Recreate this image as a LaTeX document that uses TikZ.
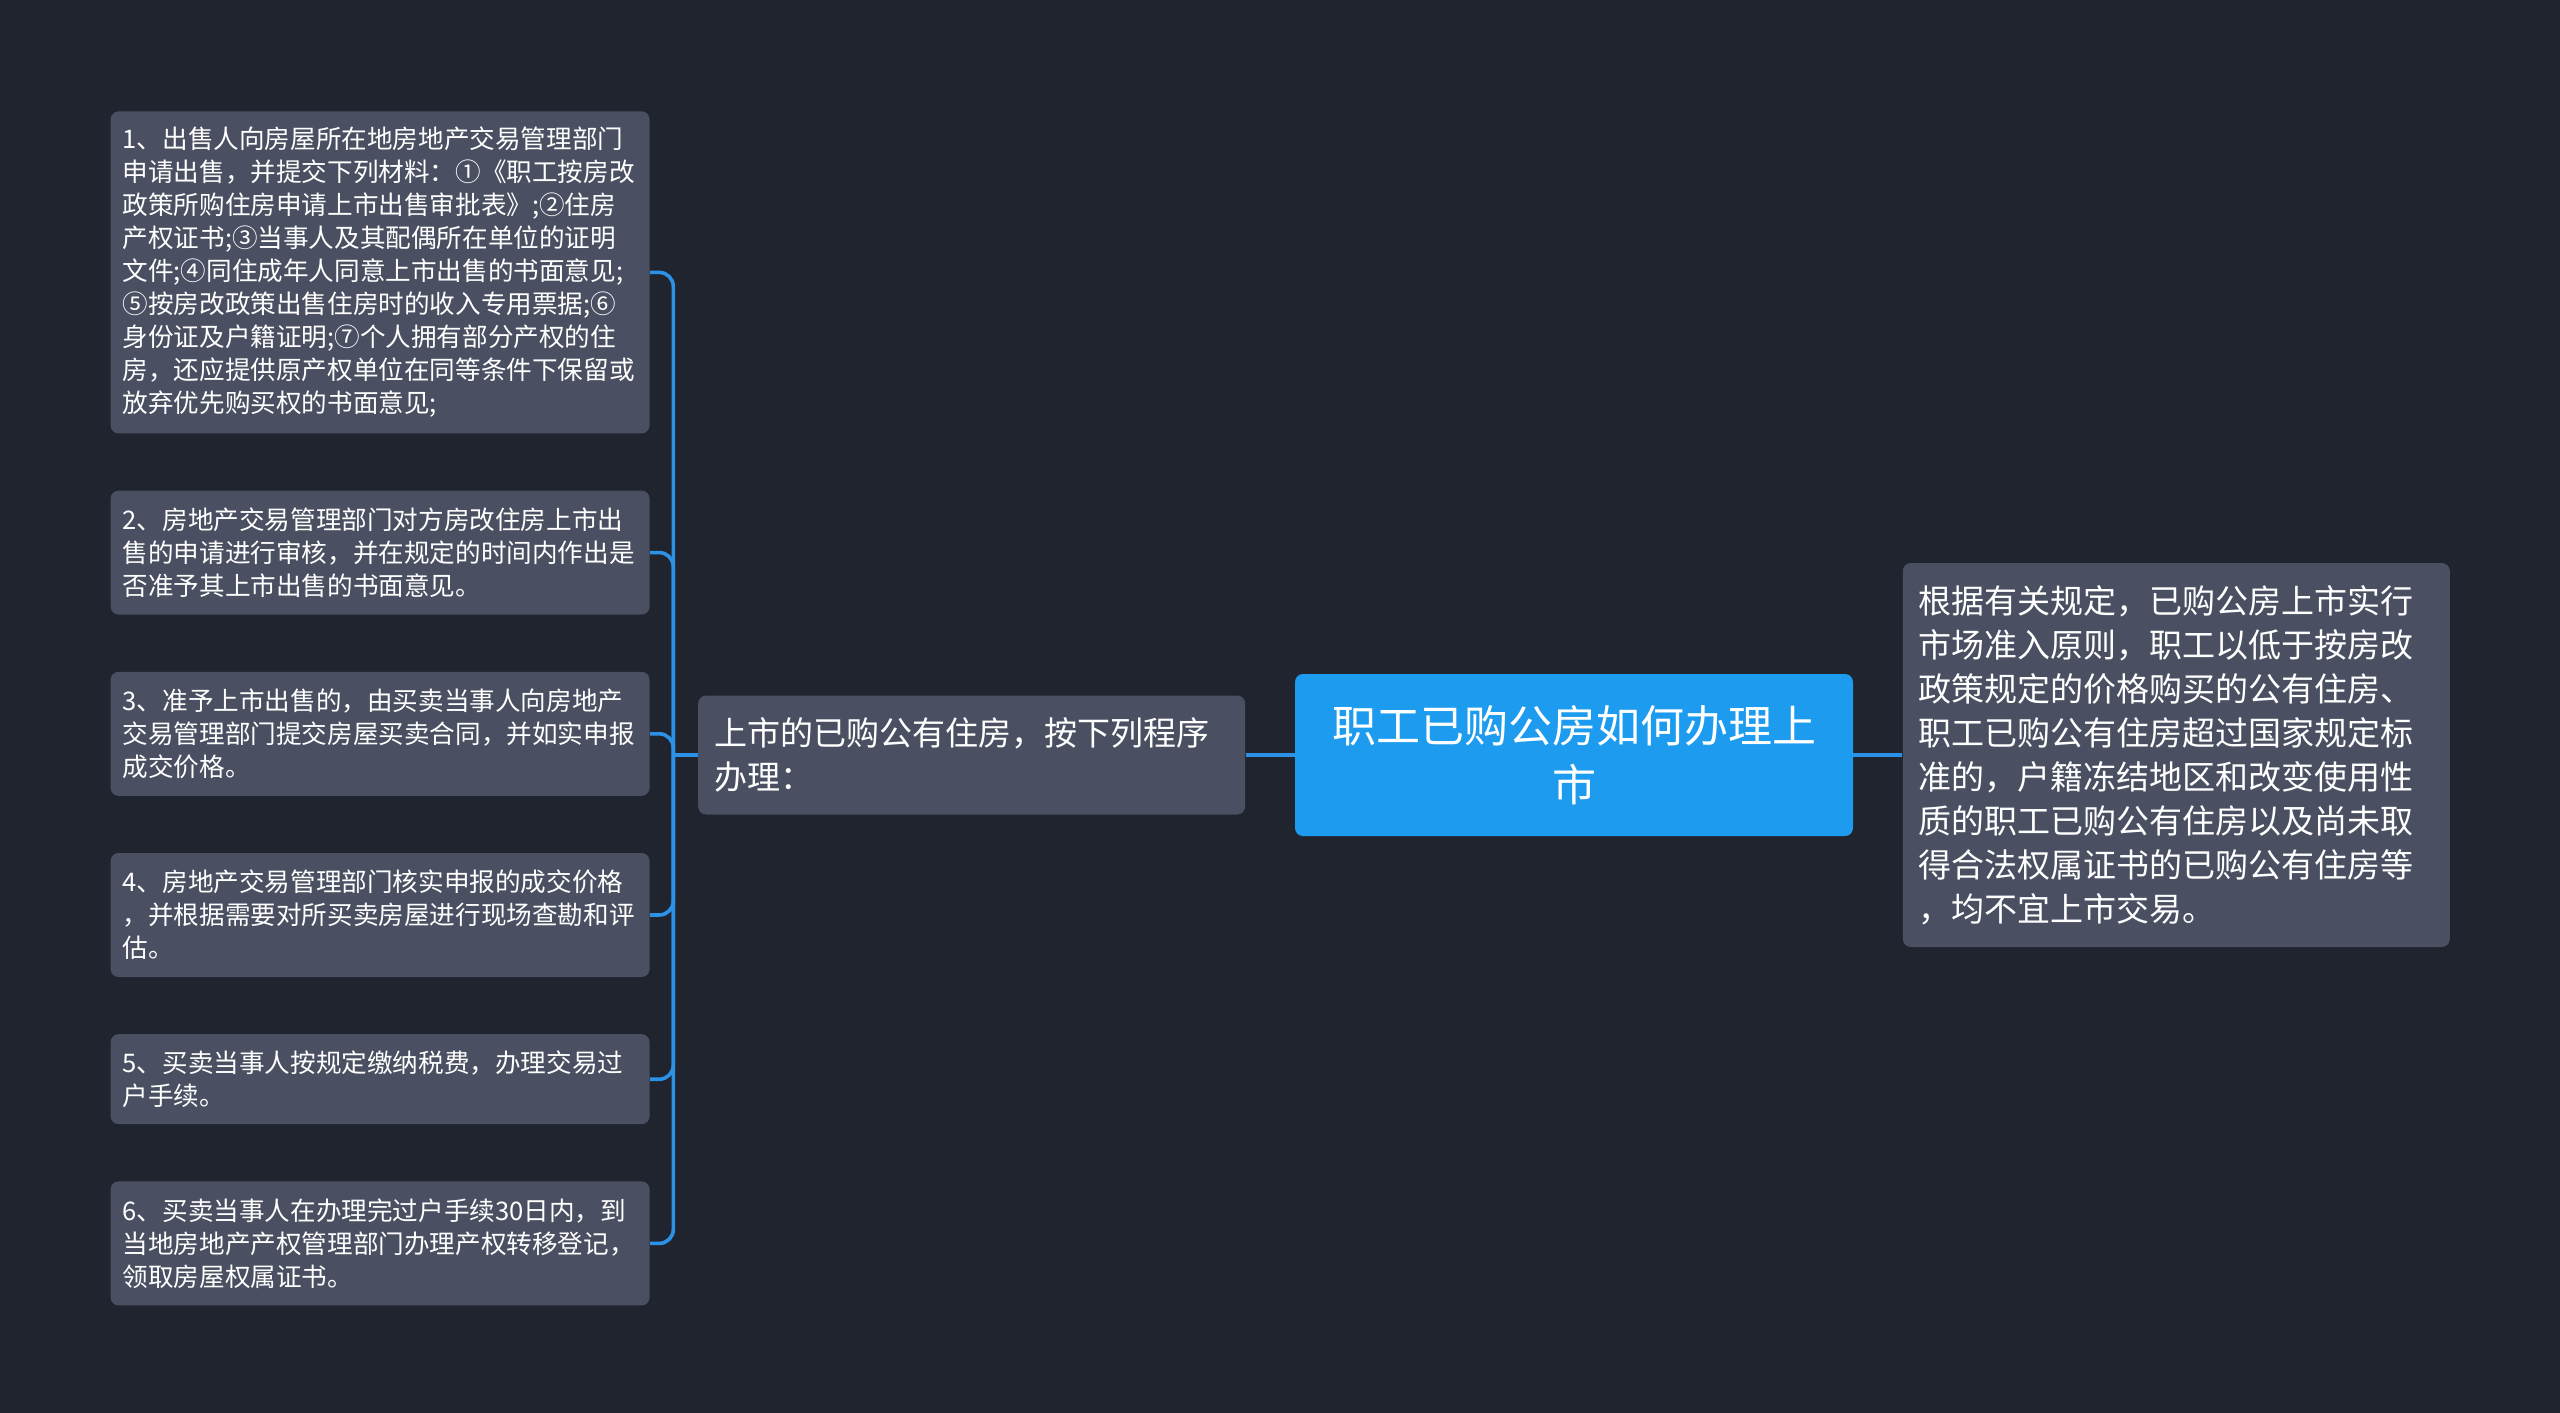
\documentclass[tikz,border=0pt]{standalone}
\usepackage{fontspec}
\setmainfont{Noto Sans CJK SC}
\usetikzlibrary{positioning}
\definecolor{canvas}{HTML}{20242F}
\definecolor{slate}{HTML}{4A5061}
\definecolor{skyblue}{HTML}{1C9BEF}
\definecolor{wire}{HTML}{2B92E8}

\begin{document}
\begin{tikzpicture}[
  x=0.5pt,y=-0.5pt,
  node distance=24.5pt,
  card/.style={fill=slate,rounded corners=4pt,text=white,align=left,inner ysep=0pt},
  leaf/.style={card,inner xsep=6pt,text width=257.5pt,font=\fontsize{12.8}{16.5}\selectfont},
  topic/.style={card,inner xsep=8pt,text width=257.5pt,font=\fontsize{16.5}{22}\selectfont},
  hub/.style={fill=skyblue,rounded corners=4pt,text=white,align=center,inner xsep=6pt,text width=267pt,minimum height=81pt,font=\fontsize{22}{29.5}\selectfont},
  link/.style={draw=wire,line width=1.8pt}
]
\useasboundingbox (0,0) rectangle (2560,1413);
\fill[canvas] (0,0) rectangle (2560,1413);
\node[hub] (root) at (1574,755) {职工已购公房如何办理上\\市};
\node[topic,minimum height=59.5pt,left=of root] (steps) {上市的已购公有住房，按下列程序\\办理：};
\node[topic,minimum height=192pt,right=of root] (rule) {根据有关规定，已购公房上市实行\\市场准入原则，职工以低于按房改\\政策规定的价格购买的公有住房、\\职工已购公有住房超过国家规定标\\准的，户籍冻结地区和改变使用性\\质的职工已购公有住房以及尚未取\\得合法权属证书的已购公有住房等\\，均不宜上市交易。};
\coordinate[left=12.25pt of steps.west] (trunk);
\node[leaf,minimum height=161pt,anchor=north east] (s1) at (650,111) {1、出售人向房屋所在地房地产交易管理部门\\申请出售，并提交下列材料：①《职工按房改\\政策所购住房申请上市出售审批表》;②住房\\产权证书;③当事人及其配偶所在单位的证明\\文件;④同住成年人同意上市出售的书面意见;\\⑤按房改政策出售住房时的收入专用票据;⑥\\身份证及户籍证明;⑦个人拥有部分产权的住\\房，还应提供原产权单位在同等条件下保留或\\放弃优先购买权的书面意见;};
\node[leaf,minimum height=62pt,below=28.2pt of s1] (s2) {2、房地产交易管理部门对方房改住房上市出\\售的申请进行审核，并在规定的时间内作出是\\否准予其上市出售的书面意见。};
\node[leaf,minimum height=62pt,below=28.2pt of s2] (s3) {3、准予上市出售的，由买卖当事人向房地产\\交易管理部门提交房屋买卖合同，并如实申报\\成交价格。};
\node[leaf,minimum height=62pt,below=28.2pt of s3] (s4) {4、房地产交易管理部门核实申报的成交价格\\，并根据需要对所买卖房屋进行现场查勘和评\\估。};
\node[leaf,minimum height=45pt,below=28.2pt of s4] (s5) {5、买卖当事人按规定缴纳税费，办理交易过\\户手续。};
\node[leaf,minimum height=62pt,below=28.2pt of s5] (s6) {6、买卖当事人在办理完过户手续30日内，到\\当地房地产产权管理部门办理产权转移登记，\\领取房屋权属证书。};
\draw[link] (steps) -- (root);
\draw[link] (root) -- (rule);
\draw[link] (steps.west) -- (trunk);
\foreach \s in {s1,s2,s3,s4,s5,s6}
  \draw[link,rounded corners=7pt] (trunk) |- (\s.east);
\end{tikzpicture}
\end{document}
